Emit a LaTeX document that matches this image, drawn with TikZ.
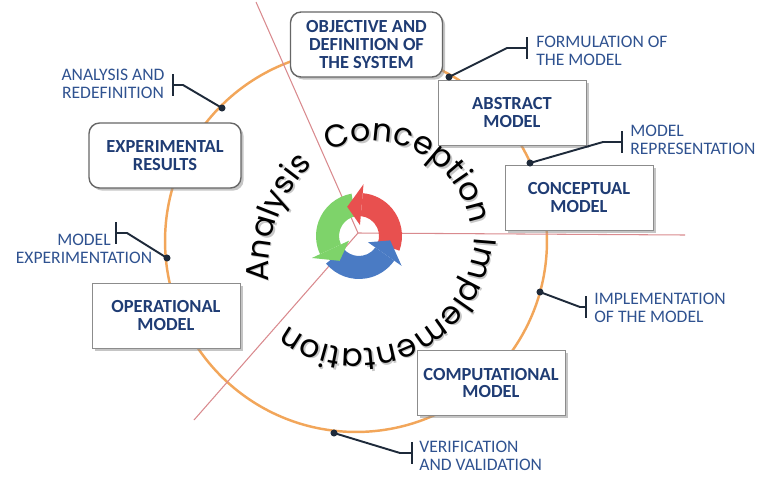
\documentclass[tikz,border=0pt]{standalone}
\usepackage{fontspec}
\setmainfont{Carlito}
\newfontfamily\ringfont{Poppins}
\usetikzlibrary{arrows.meta,shadows,decorations.text}

\definecolor{ringorange}{HTML}{F2A65A}
\definecolor{raypink}{HTML}{D98A8E}
\definecolor{boxblue}{HTML}{1F3C74}
\definecolor{noteblue}{HTML}{2F5290}
\definecolor{leadgray}{HTML}{1E2A3A}
\definecolor{arrred}{HTML}{E8504F}
\definecolor{arrgreen}{HTML}{7ED36A}
\definecolor{arrblue}{HTML}{4A7BC4}

% word bent round the cycle: centre, start angle, end angle, radius, word
\newcommand{\ringword}[5]{%
  \path[decorate,decoration={text along path,text align=center,
    text={|\ringfont\fontsize{18}{18}\selectfont\color{black!22}|#5}}]
    ([shift={(1.5,-1.5)}]#1) ++(#2:#4) arc[start angle=#2,end angle=#3,radius=#4];
  \path[decorate,decoration={text along path,text align=center,
    text={|\ringfont\fontsize{18}{18}\selectfont|#5}}]
    (#1) ++(#2:#4) arc[start angle=#2,end angle=#3,radius=#4];}

\begin{document}
\begin{tikzpicture}[x=0.02cm,y=0.02cm,
  stage/.style={draw=black!45,fill=white,minimum width=2.96cm,
    minimum height=1.3cm,align=center,text=boxblue,
    font=\bfseries\fontsize{10.5}{10.2}\selectfont,
    drop shadow={shadow xshift=1.5pt,shadow yshift=-1.5pt,fill=black!45}},
  goal/.style={stage,rounded corners=6pt,draw=black!60,line width=0.8pt,
    minimum width=3.04cm},
  note/.style={align=left,inner sep=0pt,text=noteblue,
    font=\fontsize{10}{10.2}\selectfont},
  lead/.style={draw=leadgray,line width=1.1pt,
    -{Bar[width=12pt,line width=1.1pt]}},
  dot/.style={circle,fill=leadgray,inner sep=0pt,minimum size=4pt},
  ray/.style={draw=raypink,line width=0.6pt}]

  \useasboundingbox (0,0) rectangle (764,-477);

  % the cycle and the three sectors
  \draw[ringorange,line width=1.4pt] (356,-241) circle[radius=3.82cm];

  \coordinate (hub) at (358,-233);
  \coordinate (r1) at (256,-2);
  \coordinate (r2) at (685,-235);
  \coordinate (r3) at (194,-420);
  \draw[ray] (hub) -- (r1);
  \draw[ray] (hub) -- (r2);
  \draw[ray] (hub) -- (r3);

  % turning arrows in the middle
  \begin{scope}[shift={(359,-236)}]
    \foreach \col/\s/\b in {arrred/-20/85,arrgreen/100/205,arrblue/220/325}
      \fill[\col] (\s:0.86cm) arc[start angle=\s,end angle=\b,radius=0.86cm]
        -- (\b:0.4cm) arc[start angle=\b,end angle=\s,radius=0.4cm] -- cycle;
    \foreach \col/\b in {arrred/85,arrgreen/205,arrblue/325}
      \fill[\col] (\b:1.04cm) -- (\b+27:0.63cm) -- (\b:0.22cm) -- cycle;
  \end{scope}

  \coordinate (cAna) at (419,-271);
  \coordinate (cCon) at (372,-240);
  \coordinate (cImp) at (358,-232);
  \ringword{cAna}{209.4}{109.4}{3.02cm}{Analysis}
  \ringword{cCon}{152.5}{-27.5}{1.98cm}{Conception}
  \ringword{cImp}{20}{-150}{2.34cm}{Implementation}

  % model stages
  \node[goal]  (obj) at (366.5,-44.5) {OBJECTIVE AND\\DEFINITION OF\\THE SYSTEM};
  \node[stage] (abs) at (512,-112.5)  {ABSTRACT\\MODEL};
  \node[stage] (con) at (579,-197.5)  {CONCEPTUAL\\MODEL};
  \node[stage] (com) at (491,-383)    {COMPUTATIONAL\\MODEL};
  \node[stage] (ope) at (166,-315.5)  {OPERATIONAL\\MODEL};
  \node[goal]  (exr) at (165,-155.5)  {EXPERIMENTAL\\RESULTS};

  % activities between the stages
  \node[dot] (d1) at (449,-77) {};
  \node[dot] (d2) at (530,-163) {};
  \node[dot] (d3) at (540,-292) {};
  \node[dot] (d4) at (334,-433) {};
  \node[dot] (d5) at (167,-258) {};
  \node[dot] (d6) at (222,-108) {};

  \coordinate (k1) at (507,-48);  \coordinate (b1) at (528,-48);
  \coordinate (k2) at (603,-142); \coordinate (b2) at (623,-142);
  \coordinate (k3) at (580,-307); \coordinate (b3) at (587,-307);
  \coordinate (k4) at (400,-453); \coordinate (b4) at (413,-453);
  \coordinate (k5) at (127,-233); \coordinate (b5) at (115,-233);
  \coordinate (k6) at (183,-85);  \coordinate (b6) at (172,-85);

  \draw[lead] (d1.center) -- (k1) -- (b1);
  \draw[lead] (d2.center) -- (k2) -- (b2);
  \draw[lead] (d3.center) -- (k3) -- (b3);
  \draw[lead] (d4.center) -- (k4) -- (b4);
  \draw[lead] (d5.center) -- (k5) -- (b5);
  \draw[lead] (d6.center) -- (k6) -- (b6);

  \node[note,anchor=west] (n1) at (536,-51)  {FORMULATION OF\\THE MODEL};
  \node[note,anchor=west] (n2) at (630,-140) {MODEL\\REPRESENTATION};
  \node[note,anchor=west] (n3) at (594,-308) {IMPLEMENTATION\\OF THE MODEL};
  \node[note,anchor=west] (n4) at (419,-456) {VERIFICATION\\AND VALIDATION};
  \node[note,align=center] (n5) at (84,-249) {MODEL\\EXPERIMENTATION};
  \node[note,align=center] (n6) at (113,-84) {ANALYSIS AND\\REDEFINITION};
\end{tikzpicture}
\end{document}
